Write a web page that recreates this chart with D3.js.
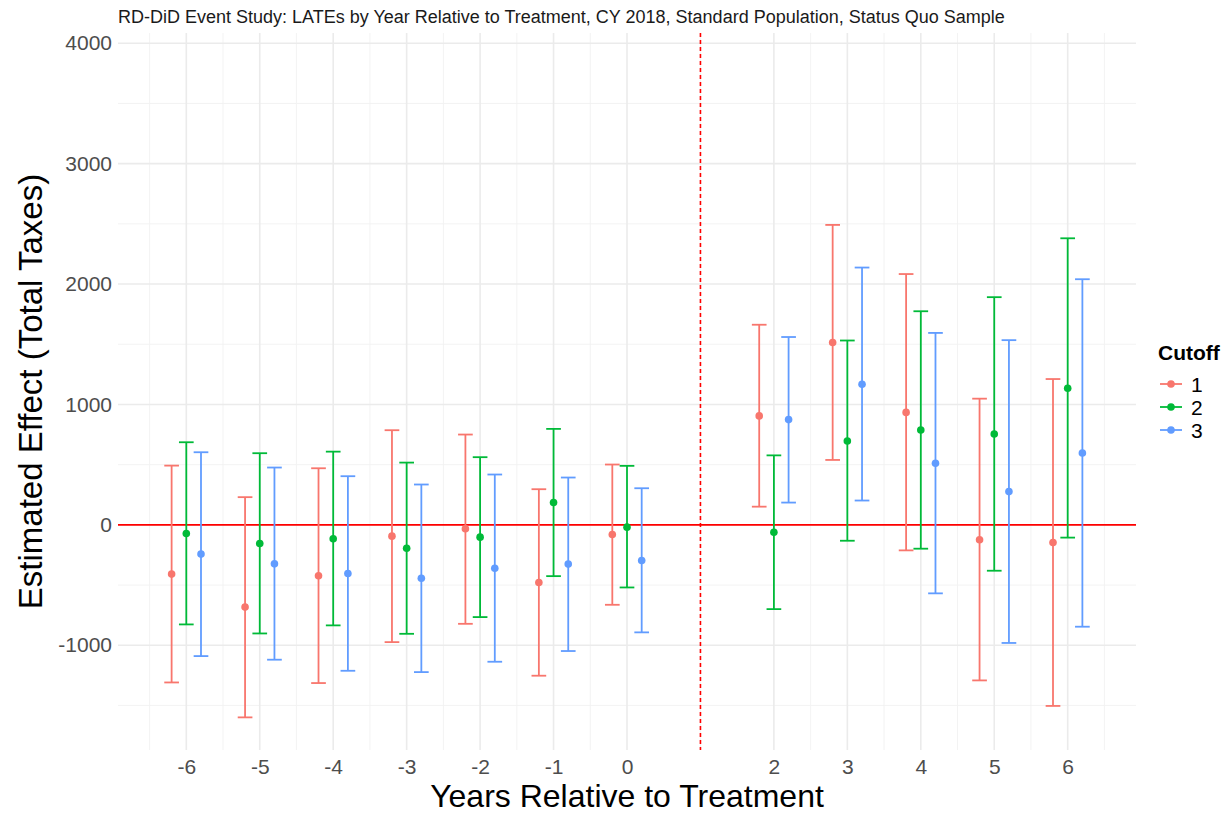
<!DOCTYPE html>
<html>
<head>
<meta charset="utf-8">
<script src="https://cdn.jsdelivr.net/npm/d3@7"></script>
<style>
  body { margin: 0; background: #fff; }
  text { font-family: "Liberation Sans", Arial, sans-serif; }
</style>
</head>
<body>
<div id="chart-area"></div>
<script>
// years relative to treatment (year 1 is omitted)
var years = [-6, -5, -4, -3, -2, -1, 0, 2, 3, 4, 5, 6];
var cutoffs = ["1", "2", "3"];

// cutoff 1
var est1 = [-409, -683, -423, -94, -33, -479, -80, 905, 1514, 934, -124, -146];
var lo1 = [-1309, -1599, -1314, -974, -822, -1253, -664, 151, 539, -212, -1292, -1504];
var hi1 = [492, 230, 470, 786, 750, 296, 501, 1662, 2491, 2083, 1048, 1211];
// cutoff 2
var est2 = [-72, -155, -116, -194, -102, 185, -19, -61, 697, 788, 754, 1134];
var lo2 = [-827, -902, -835, -905, -766, -426, -520, -700, -132, -198, -381, -106];
var hi2 = [686, 595, 608, 517, 562, 797, 490, 577, 1531, 1774, 1891, 2380];
// cutoff 3
var est3 = [-243, -324, -404, -443, -360, -326, -296, 874, 1168, 511, 276, 597];
var lo3 = [-1090, -1120, -1212, -1223, -1137, -1048, -893, 185, 202, -569, -981, -846];
var hi3 = [603, 476, 404, 335, 418, 393, 304, 1560, 2137, 1594, 1534, 2040];

var yTicks = [-1000, 0, 1000, 2000, 3000, 4000];
var yMinor = [-1500, -500, 500, 1500, 2500, 3500];
var xMinor = [-6.5, -5.5, -4.5, -3.5, -2.5, -1.5, -0.5, 1, 2.5, 3.5, 4.5, 5.5, 6.5];

var est = [est1, est2, est3];
var lo = [lo1, lo2, lo3];
var hi = [hi1, hi2, hi3];

var data = [];
cutoffs.forEach((c, k) => {
  years.forEach((yr, i) => {
    data.push({ cutoff: c, k: k, year: yr, est: est[k][i], lo: lo[k][i], hi: hi[k][i] });
  });
});

var width = 1225;
var height = 813;
var margin = { top: 33, right: 89, bottom: 63, left: 118 };
var plotW = width - margin.left - margin.right;
var plotH = height - margin.top - margin.bottom;

var svg = d3.select("#chart-area")
  .append("svg")
  .attr("width", width)
  .attr("height", height);

var g = svg.append("g")
  .attr("transform", "translate(" + margin.left + ", " + margin.top + ")");

var x = d3.scaleLinear()
  .domain([-6.93, 6.93])
  .range([0, plotW]);

var y = d3.scaleLinear()
  .domain([-1870, 4085])
  .range([plotH, 0]);

var color = d3.scaleOrdinal()
  .domain(cutoffs)
  .range(["#F8766D", "#00BA38", "#619CFF"]);

var dodge = 0.2;
var capW = 0.1;

// grid
g.selectAll(".ygrid-minor").data(yMinor).enter().append("line")
  .attr("x1", 0).attr("x2", plotW)
  .attr("y1", d => y(d)).attr("y2", d => y(d))
  .attr("stroke", "#f2f2f2").attr("stroke-width", 0.9);
g.selectAll(".xgrid-minor").data(xMinor).enter().append("line")
  .attr("y1", 0).attr("y2", plotH)
  .attr("x1", d => x(d)).attr("x2", d => x(d))
  .attr("stroke", "#f2f2f2").attr("stroke-width", 0.9);
g.selectAll(".ygrid").data(yTicks).enter().append("line")
  .attr("x1", 0).attr("x2", plotW)
  .attr("y1", d => y(d)).attr("y2", d => y(d))
  .attr("stroke", "#ebebeb").attr("stroke-width", 1.6);
g.selectAll(".xgrid").data(years).enter().append("line")
  .attr("y1", 0).attr("y2", plotH)
  .attr("x1", d => x(d)).attr("x2", d => x(d))
  .attr("stroke", "#ebebeb").attr("stroke-width", 1.6);

// axes (labels only, like theme_minimal)
var leftAxis = d3.axisLeft(y).tickValues(yTicks).tickSize(0).tickPadding(6)
  .tickFormat(d => String(d));
var ya = g.append("g").attr("class", "y axis").call(leftAxis);
ya.select(".domain").remove();
ya.selectAll("text").attr("font-size", "21px").attr("fill", "#4d4d4d")
  .style("font-family", "'Liberation Sans', Arial, sans-serif");

var bottomAxis = d3.axisBottom(x).tickValues(years).tickSize(0).tickPadding(9)
  .tickFormat(d => String(d));
var xa = g.append("g").attr("class", "x axis")
  .attr("transform", "translate(0, " + plotH + ")")
  .call(bottomAxis);
xa.select(".domain").remove();
xa.selectAll("text").attr("font-size", "21px").attr("fill", "#4d4d4d")
  .style("font-family", "'Liberation Sans', Arial, sans-serif");

// reference lines
g.append("line")
  .attr("x1", 0).attr("x2", plotW)
  .attr("y1", y(0)).attr("y2", y(0))
  .attr("stroke", "#ff0000").attr("stroke-width", 1.6);
g.append("line")
  .attr("x1", x(1)).attr("x2", x(1))
  .attr("y1", 0).attr("y2", plotH)
  .attr("stroke", "#ff0000").attr("stroke-width", 1.6)
  .attr("stroke-dasharray", "4,3");

// error bars
var bars = g.selectAll(".bar").data(data).enter().append("g")
  .attr("stroke", d => color(d.cutoff))
  .attr("stroke-width", 1.8);
bars.append("line")
  .attr("x1", d => x(d.year + (d.k - 1) * dodge))
  .attr("x2", d => x(d.year + (d.k - 1) * dodge))
  .attr("y1", d => y(d.lo)).attr("y2", d => y(d.hi));
bars.append("line")
  .attr("x1", d => x(d.year + (d.k - 1) * dodge - capW))
  .attr("x2", d => x(d.year + (d.k - 1) * dodge + capW))
  .attr("y1", d => y(d.hi)).attr("y2", d => y(d.hi));
bars.append("line")
  .attr("x1", d => x(d.year + (d.k - 1) * dodge - capW))
  .attr("x2", d => x(d.year + (d.k - 1) * dodge + capW))
  .attr("y1", d => y(d.lo)).attr("y2", d => y(d.lo));

g.selectAll(".pt").data(data).enter().append("circle")
  .attr("cx", d => x(d.year + (d.k - 1) * dodge))
  .attr("cy", d => y(d.est))
  .attr("r", 3.8)
  .attr("fill", d => color(d.cutoff));

// titles
svg.append("text")
  .attr("x", margin.left)
  .attr("y", 23)
  .attr("font-size", "18px")
  .attr("fill", "#1a1a1a")
  .text("RD-DiD Event Study: LATEs by Year Relative to Treatment, CY 2018, Standard Population, Status Quo Sample");

svg.append("text")
  .attr("x", margin.left + plotW / 2)
  .attr("y", 807)
  .attr("text-anchor", "middle")
  .attr("font-size", "32px")
  .text("Years Relative to Treatment");

svg.append("text")
  .attr("x", -(margin.top + plotH / 2))
  .attr("y", 42)
  .attr("text-anchor", "middle")
  .attr("transform", "rotate(-90)")
  .attr("font-size", "33px")
  .text("Estimated Effect (Total Taxes)");

// legend
var legend = svg.append("g").attr("transform", "translate(1158, 0)");
legend.append("text")
  .attr("x", 0).attr("y", 360)
  .attr("font-size", "21px")
  .attr("font-weight", "bold")
  .text("Cutoff");
var items = legend.selectAll(".item").data(cutoffs).enter().append("g")
  .attr("transform", (d, i) => "translate(0, " + (384 + i * 23) + ")");
items.append("line")
  .attr("x1", 2).attr("x2", 24)
  .attr("stroke", d => color(d)).attr("stroke-width", 1.8);
items.append("circle")
  .attr("cx", 13).attr("r", 3.8)
  .attr("fill", d => color(d));
items.append("text")
  .attr("x", 33).attr("y", 8)
  .attr("font-size", "21px")
  .text(d => d);
</script>
</body>
</html>
